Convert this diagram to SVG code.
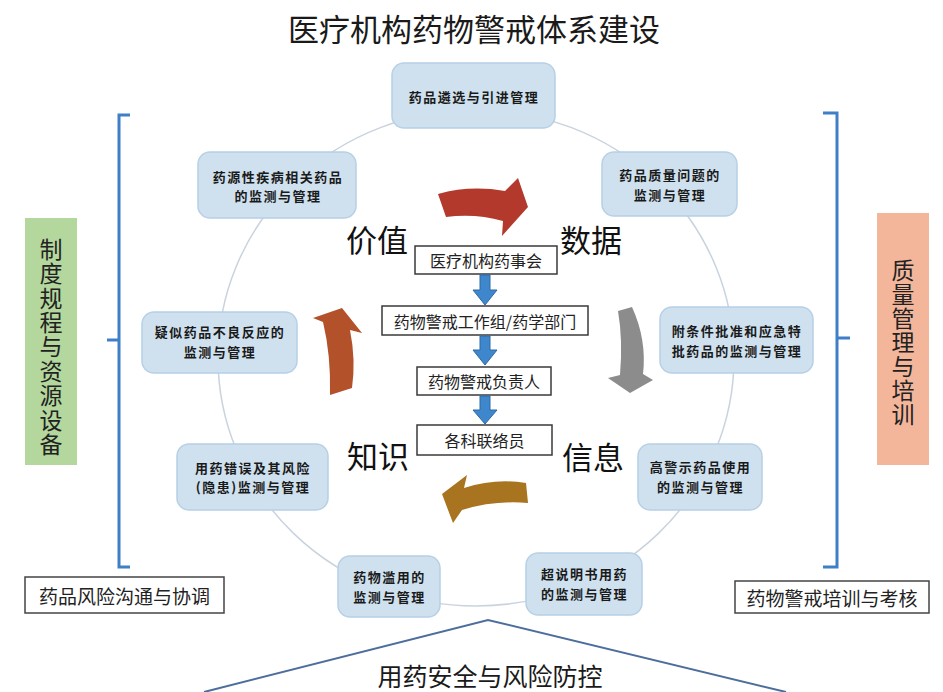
<svg xmlns="http://www.w3.org/2000/svg" width="943" height="692" viewBox="0 0 943 692">
<defs>
<style>
.node rect{fill:#cfe1ef;stroke:#b7d0e6;stroke-width:1.5}
.node text{font-family:"Noto Sans CJK SC","Noto Sans",sans-serif;font-weight:bold;font-size:13px;letter-spacing:1.5px;fill:#1a1a1a;text-anchor:middle;dominant-baseline:central}
.cbox rect{fill:#fff;stroke:#3a3a3a;stroke-width:1.5}
.cbox text{font-family:"Noto Sans CJK SC",sans-serif;font-size:16px;fill:#222;text-anchor:middle;dominant-baseline:central}
.big{font-family:"Noto Sans CJK SC",sans-serif;font-size:31px;fill:#111}
.side text{font-family:"Noto Sans CJK SC",sans-serif;font-size:23px;fill:#222;writing-mode:vertical-rl}
.bbox rect{fill:#fff;stroke:#444;stroke-width:1.5}
.bbox text{font-family:"Noto Sans CJK SC",sans-serif;font-size:19px;fill:#222;text-anchor:middle;dominant-baseline:central}
.brk{fill:none;stroke:#3f7fc8;stroke-width:3}
.darr{fill:#3f87cc;stroke:#2c6aa6;stroke-width:1}
</style>
</defs>
<rect width="943" height="692" fill="#fff"/>
<text x="474" y="41" text-anchor="middle" font-family="'Noto Sans CJK SC',sans-serif" font-size="31" fill="#1a1a1a">医疗机构药物警戒体系建设</text>

<!-- ring -->
<ellipse cx="476" cy="358" rx="258" ry="248" fill="none" stroke="#c9d3de" stroke-width="1.5"/>

<!-- brackets -->
<g id="brackets">
<path class="brk" d="M130,115 L119,115 L119,567 L130,567 M119,340 L107,340"/>
<path class="brk" d="M823,113 L837,113 L837,567 L823,567 M837,338 L850,338"/>
<path d="M204,692 L488,620 L786,692" fill="none" stroke="#4d6e9c" stroke-width="2"/>
</g>

<g id="side-left" class="side">
<rect x="25" y="218" width="52" height="247" fill="#b3d79d"/>
<text x="51" y="237.5" letter-spacing="1.4">制度规程与资源设备</text>
</g>
<g id="side-right" class="side">
<rect x="877" y="213" width="52" height="252" fill="#f3b69b"/>
<text x="903" y="258.5" letter-spacing="1">质量管理与培训</text>
</g>

<g id="box-bl" class="bbox"><rect x="25" y="577" width="199" height="36"/><text x="124.5" y="595">药品风险沟通与协调</text></g>
<g id="box-br" class="bbox"><rect x="735" y="581" width="194" height="32"/><text x="832" y="597">药物警戒培训与考核</text></g>

<text x="490" y="686" text-anchor="middle" font-family="'Noto Sans CJK SC',sans-serif" font-size="25" fill="#1a1a1a">用药安全与风险防控</text>

<!-- nodes -->
<g id="n1" class="node"><rect x="392" y="63" width="163" height="65" rx="12"/><text x="474" y="96">药品遴选与引进管理</text></g>
<g id="n2" class="node"><rect x="198" y="152" width="158" height="66" rx="12"/><text x="278" y="176">药源性疾病相关药品<tspan x="278" dy="19">的监测与管理</tspan></text></g>
<g id="n3" class="node"><rect x="602" y="152" width="135" height="64" rx="12"/><text x="670" y="174.5">药品质量问题的<tspan x="670" dy="19">监测与管理</tspan></text></g>
<g id="n4" class="node"><rect x="142" y="312" width="155" height="61" rx="12"/><text x="220" y="331.5">疑似药品不良反应的<tspan x="220" dy="19">监测与管理</tspan></text></g>
<g id="n5" class="node"><rect x="660" y="307" width="153" height="66" rx="12"/><text x="737" y="330.5">附条件批准和应急特<tspan x="737" dy="19">批药品的监测与管理</tspan></text></g>
<g id="n6" class="node"><rect x="177" y="444" width="151" height="66" rx="12"/><text x="253" y="467">用药错误及其风险<tspan x="253" dy="19">(隐患)监测与管理</tspan></text></g>
<g id="n7" class="node"><rect x="638" y="444" width="124" height="66" rx="12"/><text x="700.5" y="466.5">高警示药品使用<tspan x="700.5" dy="19">的监测与管理</tspan></text></g>
<g id="n8" class="node"><rect x="338" y="556" width="102" height="61" rx="12"/><text x="389.5" y="576.5">药物滥用的<tspan x="389.5" dy="19">监测与管理</tspan></text></g>
<g id="n9" class="node"><rect x="526" y="553" width="116" height="62" rx="12"/><text x="584.5" y="573.5">超说明书用药<tspan x="584.5" dy="19">的监测与管理</tspan></text></g>

<!-- centre hierarchy -->
<g id="c1" class="cbox"><rect x="415" y="246" width="142" height="28"/><text x="486" y="260">医疗机构药事会</text></g>
<g id="c2" class="cbox"><rect x="382" y="306" width="206" height="29"/><text x="485" y="320.5">药物警戒工作组/药学部门</text></g>
<g id="c3" class="cbox"><rect x="417" y="367" width="134" height="28"/><text x="484" y="381">药物警戒负责人</text></g>
<g id="c4" class="cbox"><rect x="417" y="425" width="135" height="30"/><text x="484.5" y="440">各科联络员</text></g>

<g id="connectors">
<path class="darr" d="M480,275 L490,275 L490,290 L497,290 L485,305 L473,290 L480,290 Z"/>
<path class="darr" d="M480,336 L490,336 L490,350 L497,350 L485,365 L473,350 L480,350 Z"/>
<path class="darr" d="M480,396 L490,396 L490,410 L497,410 L485,424 L473,410 L480,410 Z"/>
<path d="M438,194 Q470,185 505,191 L518,178 L528,207 L502,236 L503,221 Q475,213 446,217 Z" fill="#b2392c"/>
<path d="M618,311 L632,307 Q647,340 643,374 L653,380 L630,393 L608,378 L620,375 Q623,340 618,311 Z" fill="#8c8c8c"/>
<path d="M526,483 Q495,478 464,488 L467,475 L442,494 L453,523 L462,510 Q495,500 528,503 Z" fill="#a8741f"/>
<path d="M342,308 L362,333 L350,330 Q356,360 352,388 L330,395 Q331,355 323,322 L313,318 Z" fill="#b2512a"/>
</g>

<text class="big" x="346" y="252">价值</text>
<text class="big" x="560" y="252">数据</text>
<text class="big" x="347" y="468">知识</text>
<text class="big" x="562" y="469">信息</text>
</svg>
